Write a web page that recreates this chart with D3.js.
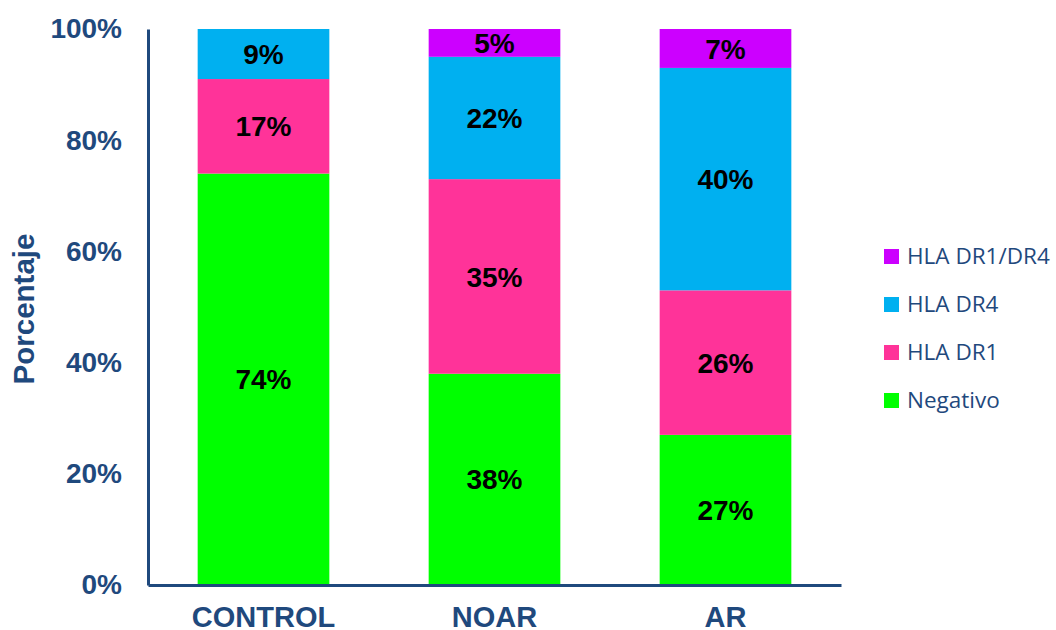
<!DOCTYPE html>
<html>
<head>
<meta charset="utf-8">
<script src="https://cdn.jsdelivr.net/npm/d3@7"></script>
<style>
  body { margin: 0; background: #fff; }
</style>
</head>
<body>
<script>
// Chart data
const categories = ['CONTROL', 'NOAR', 'AR'];
const seriesNames = ['Negativo', 'HLA DR1', 'HLA DR4', 'HLA DR1/DR4'];
const negativo = [74, 38, 27];
const dr1 = [17, 35, 26];
const dr4 = [9, 22, 40];
const dr1dr4 = [0, 5, 7];
const yTicks = [0, 20, 40, 60, 80, 100];

const colors = ['#00ff00', '#ff3399', '#00b0f0', '#cc00ff'];
const axisColor = '#1f497d';

// Build rows for the stack
const rows = categories.map((c, i) => ({
  cat: c,
  'Negativo': negativo[i],
  'HLA DR1': dr1[i],
  'HLA DR4': dr4[i],
  'HLA DR1/DR4': dr1dr4[i]
}));

const width = 1056, height = 630;
const svg = d3.select('body').append('svg')
  .attr('width', width)
  .attr('height', height);

const xScale = d3.scaleBand()
  .domain(categories)
  .range([148, 841])
  .paddingInner(0.43)
  .paddingOuter(0.215);

const yScale = d3.scaleLinear()
  .domain([0, 100])
  .range([585, 29]);

const stacked = d3.stack().keys(seriesNames)(rows);

// Bars
const layers = svg.selectAll('.layer')
  .data(stacked)
  .enter().append('g')
  .attr('fill', (d, i) => colors[i]);

layers.selectAll('rect')
  .data(d => d.filter(p => p[1] - p[0] > 0))
  .enter().append('rect')
  .attr('x', d => xScale(d.data.cat))
  .attr('y', d => yScale(d[1]))
  .attr('width', xScale.bandwidth())
  .attr('height', d => yScale(d[0]) - yScale(d[1]));

// Segment labels
layers.selectAll('text')
  .data(d => d.filter(p => p[1] - p[0] > 0))
  .enter().append('text')
  .attr('x', d => xScale(d.data.cat) + xScale.bandwidth() / 2)
  .attr('y', d => yScale((d[0] + d[1]) / 2))
  .attr('dy', '0.36em')
  .attr('text-anchor', 'middle')
  .attr('font-family', 'Liberation Sans, Arial, sans-serif')
  .attr('font-weight', 'bold')
  .attr('font-size', '28px')
  .attr('fill', '#000')
  .text(d => (d[1] - d[0]) + '%');

// Y axis
const yAxis = svg.append('g')
  .attr('transform', 'translate(148,0)')
  .call(d3.axisLeft(yScale).tickValues(yTicks).tickSize(0).tickPadding(26).tickFormat(d => d + '%'));
yAxis.select('.domain').attr('stroke', axisColor).attr('stroke-width', 3);
yAxis.selectAll('text')
  .attr('font-family', 'Liberation Sans, Arial, sans-serif')
  .attr('font-weight', 'bold')
  .attr('font-size', '28px')
  .attr('fill', axisColor);

// X axis
const xAxis = svg.append('g')
  .attr('transform', 'translate(0,585)')
  .call(d3.axisBottom(xScale).tickSize(0).tickPadding(21));
xAxis.select('.domain').attr('stroke', axisColor).attr('stroke-width', 3);
xAxis.selectAll('text')
  .attr('font-family', 'Liberation Sans, Arial, sans-serif')
  .attr('font-weight', 'bold')
  .attr('font-size', '29px')
  .attr('fill', axisColor);

// Y axis title
svg.append('text')
  .attr('transform', 'translate(34,309) rotate(-90)')
  .attr('text-anchor', 'middle')
  .attr('font-family', 'Liberation Sans, Arial, sans-serif')
  .attr('font-weight', 'bold')
  .attr('font-size', '29.5px')
  .attr('fill', axisColor)
  .text('Porcentaje');

// Legend (top entry is last series)
const legendItems = seriesNames.slice().reverse();
const legendColors = colors.slice().reverse();
const legend = svg.append('g');
legendItems.forEach((name, i) => {
  const y = 256 + i * 48;
  legend.append('rect')
    .attr('x', 884)
    .attr('y', y - 7)
    .attr('width', 15)
    .attr('height', 15)
    .attr('fill', legendColors[i]);
  legend.append('text')
    .attr('x', 907)
    .attr('y', y)
    .attr('dy', '0.35em')
    .attr('font-family', 'Open Sans, Noto Sans, sans-serif')
    .attr('font-size', '22.5px')
    .attr('fill', axisColor)
    .text(name);
});
</script>
</body>
</html>
